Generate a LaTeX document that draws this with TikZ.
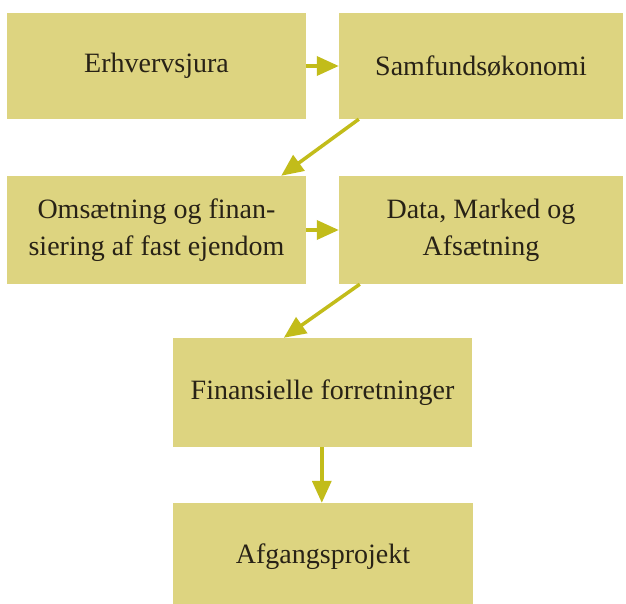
\documentclass[tikz,border=0pt]{standalone}
\usepackage{fontspec}
\setmainfont{Liberation Serif}
\usetikzlibrary{arrows.meta,calc}
\definecolor{boxfill}{RGB}{221,212,128}
\definecolor{arrowcol}{RGB}{194,188,26}
\definecolor{txt}{RGB}{40,34,22}
\begin{document}
\begin{tikzpicture}[x=1pt,y=-1pt,
  course/.style={rectangle,fill=boxfill,draw=none,inner sep=0pt,align=center,
    text=txt,font=\fontsize{28}{37}\selectfont},
  flow/.style={draw=arrowcol,line width=3.5pt,
    -{Triangle[length=22pt,width=19pt,fill=arrowcol]}}]
\useasboundingbox (0,0) rectangle (626,604);
\fill[white] (0,0) rectangle (626,604);
\node[course,minimum width=299pt,minimum height=106pt] (b1) at (156.5,66) {Erhvervsjura};
\node[course,minimum width=284pt,minimum height=106pt] (b2) at (481,66) {Samfundsøkonomi};
\node[course,minimum width=299pt,minimum height=108pt] (b3) at (156.5,230) {Omsætning og finan-\\siering af fast ejendom};
\node[course,minimum width=284pt,minimum height=108pt] (b4) at (481,230) {Data, Marked og\\Afsætning};
\node[course,minimum width=299pt,minimum height=109pt] (b5) at (322.5,392.5) {Finansielle forretninger};
\node[course,minimum width=300pt,minimum height=107pt] (b6) at (323,556.5) {Afgangsprojekt};
\draw[flow] (b1.east) -- (b2.west);
\draw[flow] (b3.east) -- (b4.west);
\draw[flow] ($(b2.south west)+(20,0)$) -- ($(b3.north east)+(-25,0)$);
\draw[flow] ($(b4.south west)+(21,0)$) -- ($(b5.north west)+(111,0)$);
\draw[flow] ($(b5.south west)+(149,0)$) -- ($(b6.north west)+(149,0)$);
\end{tikzpicture}
\end{document}
